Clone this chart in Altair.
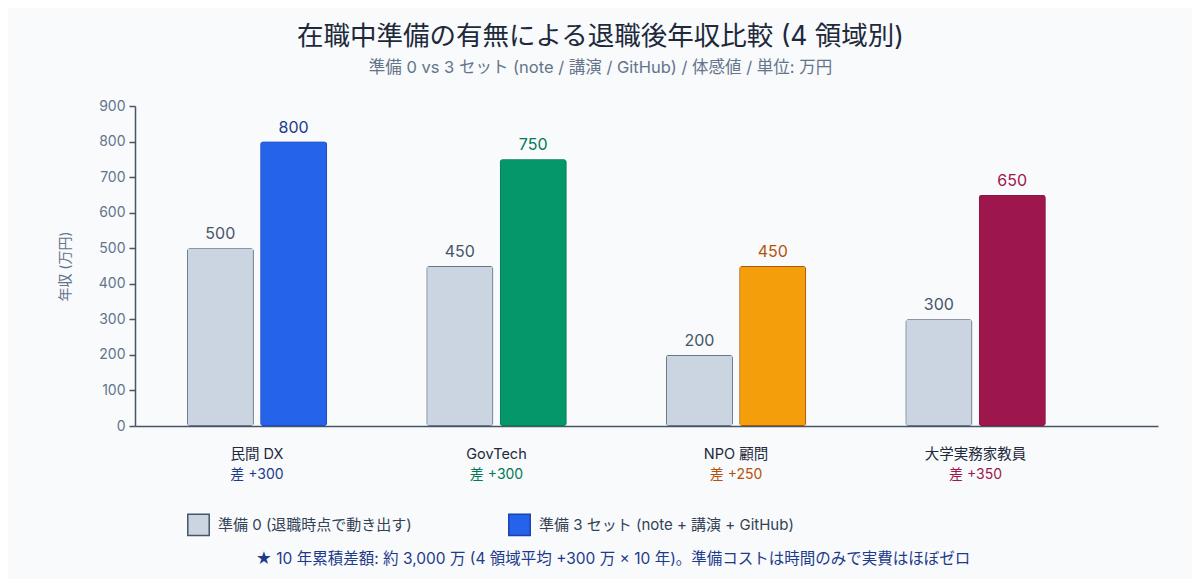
import altair as alt
import pandas as pd

categories = ["民間 DX", "GovTech", "NPO 顧問", "大学実務家教員"]
prep0 = [500, 450, 200, 300]
prep3 = [800, 750, 450, 650]

LABEL_0 = "準備 0 (退職時点で動き出す)"
LABEL_3 = "準備 3 セット (note + 講演 + GitHub)"
NOTE = "★ 10 年累積差額: 約 3,000 万 (4 領域平均 +300 万 × 10 年)。準備コストは時間のみで実費はほぼゼロ"

# every "0" bar shares the grey key; each "3" bar gets its own colour key
keys3 = [LABEL_3, "GovTech 準備 3", "NPO 顧問 準備 3", "大学実務家教員 準備 3"]
key_domain = [LABEL_0] + keys3
fills = ["#cbd5e1", "#2563eb", "#059669", "#f59e0b", "#9d174d"]
strokes = ["#475569", "#1e40af", "#047857", "#92400e", "#831843"]
text_colors = ["#475569", "#1e3a8a", "#047857", "#b45309", "#9d174d"]

rows = []
for c, v0, v3, k3 in zip(categories, prep0, prep3, keys3):
    rows.append({"category": c, "series": "0", "value": v0, "key": LABEL_0})
    rows.append({"category": c, "series": "3", "value": v3, "key": k3})
bars_df = pd.DataFrame(rows)
diff_df = pd.DataFrame({
    "category": categories,
    "diff": [b - a for a, b in zip(prep0, prep3)],
    "key": keys3,
})

FONT = "Inter, 'Noto Sans CJK JP', sans-serif"
W, H = 1023, 320

x_enc = alt.X(
    "category:N", sort=categories,
    scale=alt.Scale(paddingInner=0.415, paddingOuter=0.343, align=0.316),
    axis=alt.Axis(title=None, ticks=False, labelAngle=0, labelPadding=21,
                  labelFontSize=14.5, labelColor="#1e293b",
                  domainColor="#475569", domainWidth=1.5),
)
xoff_enc = alt.XOffset("series:N", sort=["0", "3"], scale=alt.Scale(paddingInner=0.09))
y_enc = alt.Y(
    "value:Q", scale=alt.Scale(domain=[0, 900], nice=False),
    axis=alt.Axis(title="年収 (万円)", values=list(range(0, 901, 100)), grid=False,
                  tickSize=6, tickColor="#475569", tickWidth=1.5,
                  domainColor="#475569", domainWidth=1.5,
                  labelColor="#64748b", labelFontSize=14, labelPadding=4,
                  titleColor="#64748b", titleFontSize=14, titleFontWeight="normal",
                  titlePadding=26),
)

legend = alt.Legend(
    title=None, values=[LABEL_0, LABEL_3], orient="none", legendX=52, legendY=407,
    direction="horizontal", columns=2, symbolType="square", symbolSize=460,
    symbolStrokeWidth=1.5, labelFontSize=15, labelColor="#334155", labelOffset=8,
    columnPadding=93, labelLimit=400, padding=0,
)

base = alt.Chart(bars_df)

bars = base.mark_bar(cornerRadius=3, strokeWidth=1.5).encode(
    x=x_enc,
    xOffset=xoff_enc,
    y=y_enc,
    color=alt.Color("key:N", scale=alt.Scale(domain=key_domain, range=fills), legend=legend),
    stroke=alt.Stroke("key:N", scale=alt.Scale(domain=key_domain, range=strokes), legend=legend),
)

values = base.mark_text(baseline="bottom", dy=-6, fontSize=16).encode(
    x=x_enc,
    xOffset=xoff_enc,
    y=y_enc,
    text=alt.Text("value:Q"),
    fill=alt.Fill("key:N", scale=alt.Scale(domain=key_domain, range=text_colors), legend=None),
)

diffs = alt.Chart(diff_df).transform_calculate(
    label="'差 +' + datum.diff"
).mark_text(fontSize=14, baseline="middle").encode(
    x=x_enc,
    y=alt.value(369),
    text="label:N",
    fill=alt.Fill("key:N", scale=alt.Scale(domain=key_domain, range=text_colors), legend=None),
)

note = alt.Chart(pd.DataFrame({"note": [NOTE]})).mark_text(
    fontSize=15.5, color="#1e3a8a", baseline="middle", align="center"
).encode(x=alt.value(478), y=alt.value(453), text="note:N")

chart = alt.layer(bars, values, diffs, note).properties(
    width=W,
    height=H,
    background="#f8fafc",
    padding={"left": 127, "top": 98, "right": 34, "bottom": 153},
    autosize=alt.AutoSizeParams(type="none"),
    title=alt.TitleParams(
        text="在職中準備の有無による退職後年収比較 (4 領域別)",
        subtitle="準備 0 vs 3 セット (note / 講演 / GitHub) / 体感値 / 単位: 万円",
        fontSize=26.5, fontWeight="normal", color="#1e293b",
        subtitleFontSize=16.5, subtitleColor="#64748b", subtitlePadding=9,
        anchor="middle", frame="group", dx=-46, offset=23,
    ),
).configure(font=FONT).configure_view(stroke=None)

chart.save("out.html", embed_options={"renderer": "svg", "actions": False})
